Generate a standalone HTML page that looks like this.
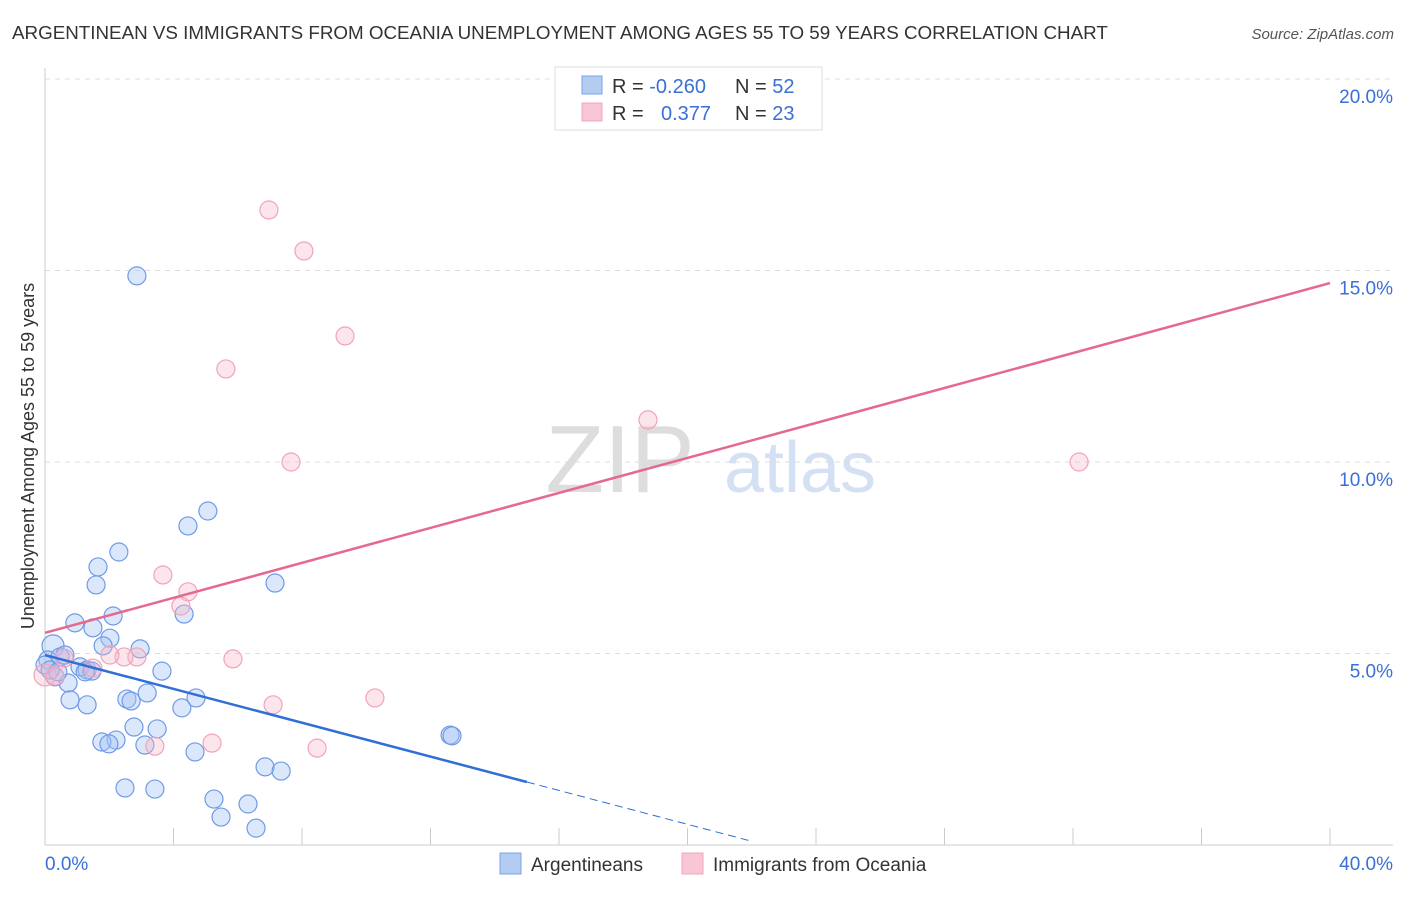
<!DOCTYPE html>
<html><head><meta charset="utf-8"><style>
body{margin:0;background:#fff;font-family:"Liberation Sans",sans-serif;}
svg text{font-family:"Liberation Sans",sans-serif;}
</style></head><body>
<svg id="chart" width="1406" height="892">
<text x="12" y="39" font-size="18.8" fill="#333">ARGENTINEAN VS IMMIGRANTS FROM OCEANIA UNEMPLOYMENT AMONG AGES 55 TO 59 YEARS CORRELATION CHART</text>
<text x="1394" y="39" font-size="15" fill="#555" font-style="italic" text-anchor="end">Source: ZipAtlas.com</text>
<text x="620" y="492" font-size="96" fill="#ddd" font-family="Liberation Serif" text-anchor="middle">ZIP</text>
<text x="800" y="492" font-size="72" fill="#d4e0f4" text-anchor="middle">atlas</text>
<text transform="translate(34,456) rotate(-90)" font-size="18" fill="#333" text-anchor="middle">Unemployment Among Ages 55 to 59 years</text>
<g id="grid"></g><g id="pts"></g><g id="lines"></g>
<g>
<rect x="555" y="67" width="267" height="63" fill="#fff" stroke="#ddd"/>
<rect x="582" y="76" width="20" height="18" fill="#b3cdf2" stroke="#7ba3e8"/>
<rect x="582" y="103" width="20" height="18" fill="#f9c6d5" stroke="#f2a5bd"/>
<text x="612" y="93" font-size="20" fill="#333">R = <tspan fill="#3a6fd8">-0.260</tspan></text>
<text x="735" y="93" font-size="20" fill="#333">N = <tspan fill="#3a6fd8">52</tspan></text>
<text x="612" y="120" font-size="20" fill="#333">R = </text><text x="661" y="120" font-size="20" fill="#3a6fd8">0.377</text>
<text x="735" y="120" font-size="20" fill="#333">N = <tspan fill="#3a6fd8">23</tspan></text>
</g>
<g>
<rect x="500" y="853" width="21" height="21" fill="#b3cdf2" stroke="#7ba3e8"/>
<text x="531" y="871" font-size="19" fill="#333">Argentineans</text>
<rect x="682" y="853" width="21" height="21" fill="#f9c6d5" stroke="#f2a5bd"/>
<text x="713" y="871" font-size="19" fill="#333">Immigrants from Oceania</text>
</g>
</svg>
<script>
const yTicks=[5,10,15,20];
const yTickLabels=["5.0%","10.0%","15.0%","20.0%"];
const xTicks=[0,4,8,12,16,20,24,28,32,36,40];
const blueX=[2.86,5.07,4.45,2.30,1.65,1.59,7.16,2.12,4.33,0.93,1.49,2.02,2.96,1.81,0.25,0.09,0.47,0.62,1.09,1.31,1.46,0.72,0.31,3.64,0.78,1.31,2.55,2.68,3.18,4.70,4.26,2.77,3.49,2.21,1.77,1.99,3.11,4.67,6.85,7.35,12.61,12.67,2.49,3.42,5.26,6.32,5.48,6.57,0,0.16,0.40,1.25];
const blueY=[14.86,8.72,8.33,7.65,7.26,6.79,6.84,5.98,6.03,5.80,5.67,5.40,5.12,5.20,5.20,4.83,4.91,4.96,4.65,4.57,4.54,4.23,4.39,4.54,3.79,3.66,3.81,3.76,3.97,3.84,3.58,3.08,3.03,2.74,2.69,2.64,2.61,2.43,2.04,1.93,2.87,2.85,1.49,1.46,1.20,1.07,0.73,0.44,4.70,4.57,4.52,4.52];
const pinkX=[6.97,8.06,9.34,5.63,7.66,18.77,32.19,3.67,4.45,4.23,5.85,2.86,2.46,2.02,0.59,1.49,0,0.31,7.10,10.27,5.20,8.47,3.42];
const pinkY=[16.58,15.51,13.29,12.43,10.0,11.10,10.0,7.05,6.61,6.24,4.86,4.91,4.91,4.96,4.88,4.62,4.44,4.41,3.66,3.84,2.66,2.53,2.58];
const blueTrend=[4.96,-0.221];
const pinkTrend=[5.54,0.2283];
const X=v=>45+v*32.125, Y=v=>845-v*38.3;
const NS="http://www.w3.org/2000/svg";
function mk(p,t,a){const e=document.createElementNS(NS,t);for(const k in a)e.setAttribute(k,a[k]);p.appendChild(e);return e;}
const g=document.getElementById('grid');
yTicks.forEach((t,i)=>{
 const l=mk(g,'line',{x1:45,x2:1393,y1:Y(t),y2:Y(t),stroke:'#ddd','stroke-dasharray':'5,5'});
 
 
 const tx=mk(g,'text',{x:1393,y:Y(t)+24,'font-size':19,fill:'#3a6fd8','text-anchor':'end'});tx.textContent=yTickLabels[i];
 
 
});
mk(g,'line',{x1:45,x2:45,y1:68,y2:845,stroke:'#ccc'});
mk(g,'line',{x1:45,x2:1393,y1:845,y2:845,stroke:'#ccc'});
xTicks.forEach(t=>{const l=mk(g,'line',{x1:X(t),x2:X(t),y1:828,y2:845,stroke:'#ccc'});
 
 });
const a=mk(g,'text',{x:45,y:870,'font-size':19,fill:'#3a6fd8'});a.textContent='0.0%';


const b=mk(g,'text',{x:1393,y:870,'font-size':19,fill:'#3a6fd8','text-anchor':'end'});b.textContent='40.0%';


const P=document.getElementById('pts');
blueX.forEach((x,i)=>{const c=mk(P,'circle',{cx:X(x),cy:Y(blueY[i]),r:i==14?11:9,fill:'rgba(164,194,244,0.4)',stroke:'#6f9be6','stroke-width':1.2});
 
 });
pinkX.forEach((x,i)=>{const c=mk(P,'circle',{cx:X(x),cy:Y(pinkY[i]),r:i==16?11:9,fill:'rgba(248,180,200,0.35)',stroke:'#f0a3bb','stroke-width':1.2});
 
 });
const L=document.getElementById('lines');
const bl=mk(L,'line',{x1:X(0),y1:Y(blueTrend[0]),x2:X(15),y2:Y(blueTrend[0]+blueTrend[1]*15),stroke:'#2f6fd6','stroke-width':2.5});


const bd=mk(L,'line',{x1:X(15),y1:Y(blueTrend[0]+blueTrend[1]*15),x2:X(22),y2:Y(blueTrend[0]+blueTrend[1]*22),stroke:'#2f6fd6','stroke-width':1,'stroke-dasharray':'8,5'});


const pl=mk(L,'line',{x1:X(0),y1:Y(pinkTrend[0]),x2:X(40),y2:Y(pinkTrend[0]+pinkTrend[1]*40),stroke:'#e5688f','stroke-width':2.5});


</script>
</body></html>
